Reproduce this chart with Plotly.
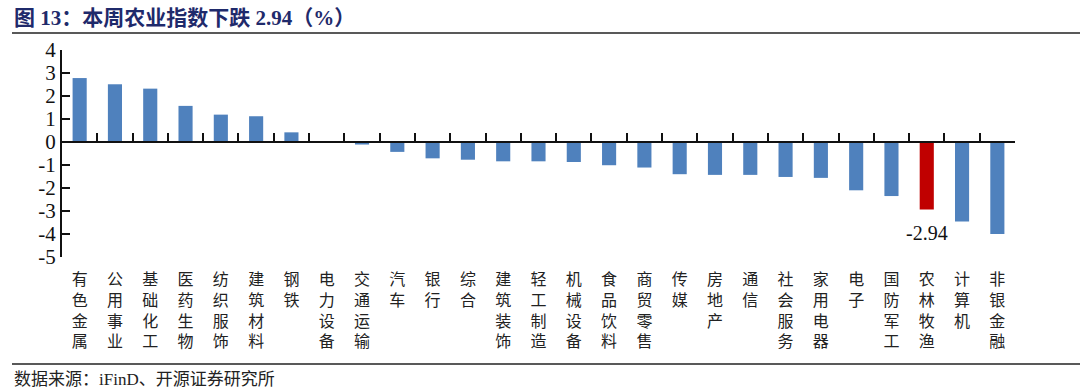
import plotly.graph_objects as go

categories = ["有色金属", "公用事业", "基础化工", "医药生物", "纺织服饰", "建筑材料", "钢铁",
              "电力设备", "交通运输", "汽车", "银行", "综合", "建筑装饰", "轻工制造", "机械设备",
              "食品饮料", "商贸零售", "传媒", "房地产", "通信", "社会服务", "家用电器", "电子",
              "国防军工", "农林牧渔", "计算机", "非银金融"]
values = [2.78, 2.51, 2.32, 1.57, 1.19, 1.12, 0.42, 0.02, -0.11, -0.43, -0.71, -0.77, -0.84,
          -0.84, -0.87, -1.01, -1.11, -1.40, -1.43, -1.43, -1.52, -1.56, -2.10, -2.35, -2.94,
          -3.46, -4.00]
highlight = "农林牧渔"
title_text = "图 13：本周农业指数下跌 2.94（%）"
source_text = "数据来源：iFinD、开源证券研究所"
y_ticks = [4, 3, 2, 1, 0, -1, -2, -3, -4, -5]

BLUE = "#4F81BD"
RED = "#C00000"
colors = [RED if c == highlight else BLUE for c in categories]
tick_text = ["<br>".join(list(c)) for c in categories]

serif = "Liberation Serif, Times New Roman, serif"
mixed = "Liberation Serif, Noto Sans CJK SC, serif"

fig = go.Figure()
fig.add_trace(go.Bar(x=categories, y=values, marker=dict(color=colors, line=dict(width=0)),
                     width=0.4, showlegend=False))

# helper axis for the zero line with boundary ticks
n = len(categories)
fig.add_trace(go.Scatter(x=[-0.5, n - 0.5], y=[None, None], xaxis="x2", yaxis="y",
                         showlegend=False, hoverinfo="skip"))

hi = categories.index(highlight)
fig.add_annotation(x=categories[hi], y=values[hi], text=f"{values[hi]:.2f}", showarrow=False,
                   yanchor="top", yshift=-10, font=dict(family=serif, size=20, color="#111"))

y_min, y_max = -5, 4
fig.update_layout(
    width=1080, height=392,
    margin=dict(l=62, r=65, t=50, b=135),
    plot_bgcolor="white", paper_bgcolor="white",
    bargap=0.6,
    xaxis=dict(type="category", range=[-0.5, n - 0.5], showline=False, ticks="",
               tickvals=categories, ticktext=tick_text, tickangle=0, automargin=False,
               tickfont=dict(family=mixed, size=16, color="#222"), ticklabelstandoff=11,
               showgrid=False, zeroline=False),
    xaxis2=dict(overlaying="x", anchor="free", position=(0 - y_min) / (y_max - y_min),
                range=[-0.5, n - 0.5], showline=True, linecolor="#111", linewidth=2,
                ticks="inside", ticklen=8, tickwidth=1.5, tickcolor="#111", automargin=False,
                tickvals=[i - 0.5 for i in range(n + 1)], showticklabels=False,
                showgrid=False, zeroline=False),
    yaxis=dict(range=[y_min, y_max], tickvals=y_ticks, ticktext=[str(v) for v in y_ticks],
               showline=True, linecolor="#111", automargin=False,
               linewidth=2, ticks="inside", ticklen=8, tickwidth=1.5, tickcolor="#111",
               tickfont=dict(family=serif, size=21, color="#111"), showgrid=False,
               zeroline=False),
)

fig.add_annotation(xref="paper", yref="paper", x=-50 / 953, y=1, yshift=32,
                   xanchor="left", yanchor="middle", showarrow=False, text=f"<b>{title_text}</b>",
                   font=dict(family=mixed, size=21, color="#1F2A6B"))
fig.add_annotation(xref="paper", yref="paper", x=-50 / 953, y=0, yshift=-122,
                   xanchor="left", yanchor="middle", showarrow=False, text=source_text,
                   font=dict(family=mixed, size=17, color="#222"))
fig.add_shape(type="line", xref="paper", yref="paper", x0=-50 / 953, x1=1 + 65 / 953,
              y0=1 + 17 / 207, y1=1 + 17 / 207, line=dict(color="#222", width=1.5))
fig.add_shape(type="line", xref="paper", yref="paper", x0=-50 / 953, x1=1 + 65 / 953,
              y0=-107 / 207, y1=-107 / 207, line=dict(color="#222", width=1.5))

fig.write_html("out.html", config={"displayModeBar": False},
               post_script="document.body.style.margin='0';")
